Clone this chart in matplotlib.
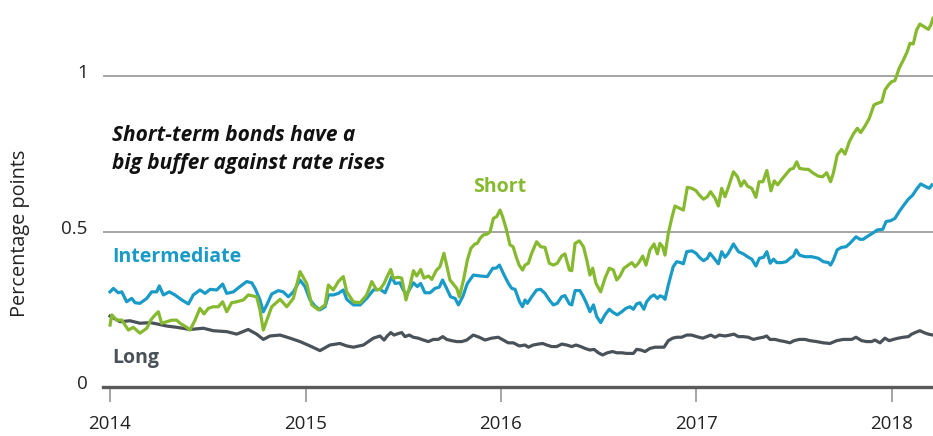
import matplotlib
matplotlib.use("Agg")
import matplotlib.pyplot as plt
from matplotlib.transforms import ScaledTranslation

plt.rcParams['font.family'] = ['Open Sans', 'DejaVu Sans']

# ---------------- data (decimal years, percentage points) ----------------
inter_t = [2014.000, 2014.017, 2014.042, 2014.060, 2014.085, 2014.111, 2014.128, 2014.153, 2014.188, 2014.213,
           2014.239, 2014.252, 2014.273, 2014.303, 2014.332, 2014.367, 2014.401, 2014.426, 2014.460, 2014.486,
           2014.512, 2014.546, 2014.576, 2014.597, 2014.631, 2014.665, 2014.699, 2014.725, 2014.742, 2014.767,
           2014.784, 2014.802, 2014.827, 2014.861, 2014.886, 2014.912, 2014.938, 2014.972, 2014.997, 2015.023,
           2015.049, 2015.074, 2015.100, 2015.117, 2015.142, 2015.168, 2015.193, 2015.211, 2015.245, 2015.279,
           2015.313, 2015.347, 2015.381, 2015.407, 2015.424, 2015.441, 2015.458, 2015.483, 2015.500, 2015.517,
           2015.535, 2015.552, 2015.572, 2015.589, 2015.611, 2015.637, 2015.662, 2015.684, 2015.701, 2015.722,
           2015.742, 2015.765, 2015.782, 2015.804, 2015.828, 2015.859, 2015.893, 2015.930, 2015.958, 2015.975,
           2015.992, 2016.016, 2016.038, 2016.055, 2016.072, 2016.095, 2016.110, 2016.123, 2016.135, 2016.157,
           2016.182, 2016.203, 2016.225, 2016.247, 2016.268, 2016.288, 2016.310, 2016.327, 2016.350, 2016.362,
           2016.379, 2016.404, 2016.422, 2016.439, 2016.455, 2016.473, 2016.490, 2016.510, 2016.532, 2016.554,
           2016.575, 2016.595, 2016.618, 2016.639, 2016.660, 2016.677, 2016.694, 2016.711, 2016.731, 2016.745,
           2016.766, 2016.783, 2016.800, 2016.813, 2016.827, 2016.839, 2016.856, 2016.881, 2016.899, 2016.919,
           2016.933, 2016.950, 2016.976, 2016.998, 2017.015, 2017.036, 2017.056, 2017.069, 2017.090, 2017.112,
           2017.129, 2017.146, 2017.163, 2017.189, 2017.215, 2017.240, 2017.261, 2017.283, 2017.304, 2017.322,
           2017.343, 2017.360, 2017.377, 2017.394, 2017.411, 2017.437, 2017.459, 2017.479, 2017.496, 2017.510,
           2017.527, 2017.555, 2017.589, 2017.623, 2017.649, 2017.675, 2017.686, 2017.700, 2017.720, 2017.742,
           2017.765, 2017.785, 2017.816, 2017.836, 2017.853, 2017.879, 2017.905, 2017.925, 2017.953, 2017.970,
           2017.994, 2018.015, 2018.037, 2018.061, 2018.084, 2018.106, 2018.126, 2018.147, 2018.174, 2018.191,
           2018.205]
inter_v = [0.306, 0.317, 0.303, 0.306, 0.274, 0.285, 0.271, 0.269, 0.285, 0.306,
           0.306, 0.325, 0.296, 0.306, 0.296, 0.280, 0.267, 0.296, 0.312, 0.301,
           0.314, 0.312, 0.331, 0.301, 0.306, 0.323, 0.339, 0.335, 0.317, 0.280,
           0.242, 0.264, 0.299, 0.310, 0.306, 0.290, 0.306, 0.344, 0.323, 0.280,
           0.260, 0.248, 0.258, 0.296, 0.296, 0.301, 0.312, 0.282, 0.264, 0.264,
           0.285, 0.312, 0.314, 0.303, 0.328, 0.355, 0.333, 0.335, 0.312, 0.296,
           0.317, 0.335, 0.323, 0.333, 0.303, 0.303, 0.317, 0.321, 0.344, 0.317,
           0.290, 0.285, 0.264, 0.290, 0.333, 0.360, 0.357, 0.355, 0.382, 0.382,
           0.392, 0.360, 0.333, 0.317, 0.314, 0.274, 0.258, 0.280, 0.269, 0.290,
           0.312, 0.314, 0.301, 0.280, 0.264, 0.269, 0.290, 0.294, 0.267, 0.264,
           0.310, 0.310, 0.290, 0.267, 0.242, 0.264, 0.226, 0.207, 0.232, 0.250,
           0.239, 0.232, 0.242, 0.253, 0.258, 0.250, 0.267, 0.271, 0.250, 0.274,
           0.290, 0.296, 0.285, 0.293, 0.290, 0.282, 0.328, 0.387, 0.403, 0.400,
           0.396, 0.435, 0.438, 0.430, 0.417, 0.406, 0.414, 0.430, 0.414, 0.396,
           0.435, 0.417, 0.430, 0.460, 0.435, 0.428, 0.419, 0.411, 0.389, 0.414,
           0.417, 0.435, 0.398, 0.411, 0.400, 0.400, 0.403, 0.414, 0.421, 0.441,
           0.424, 0.419, 0.419, 0.414, 0.403, 0.400, 0.392, 0.408, 0.441, 0.449,
           0.451, 0.462, 0.483, 0.475, 0.475, 0.486, 0.496, 0.505, 0.507, 0.532,
           0.535, 0.542, 0.564, 0.585, 0.604, 0.617, 0.636, 0.653, 0.644, 0.639,
           0.650]

short_t = [2014.000, 2014.009, 2014.034, 2014.060, 2014.094, 2014.119, 2014.153, 2014.188, 2014.208, 2014.225,
           2014.247, 2014.264, 2014.290, 2014.316, 2014.341, 2014.358, 2014.392, 2014.409, 2014.435, 2014.460,
           2014.481, 2014.503, 2014.528, 2014.554, 2014.576, 2014.597, 2014.622, 2014.648, 2014.682, 2014.707,
           2014.750, 2014.767, 2014.784, 2014.802, 2014.827, 2014.870, 2014.904, 2014.938, 2014.972, 2015.006,
           2015.032, 2015.066, 2015.100, 2015.117, 2015.142, 2015.168, 2015.193, 2015.211, 2015.245, 2015.279,
           2015.313, 2015.339, 2015.364, 2015.381, 2015.402, 2015.419, 2015.436, 2015.449, 2015.475, 2015.492,
           2015.514, 2015.535, 2015.552, 2015.569, 2015.589, 2015.606, 2015.629, 2015.646, 2015.668, 2015.688,
           2015.708, 2015.722, 2015.739, 2015.760, 2015.774, 2015.787, 2015.808, 2015.828, 2015.846, 2015.867,
           2015.879, 2015.893, 2015.910, 2015.930, 2015.944, 2015.961, 2015.978, 2015.995, 2016.008, 2016.026,
           2016.046, 2016.062, 2016.080, 2016.093, 2016.110, 2016.123, 2016.140, 2016.157, 2016.182, 2016.203,
           2016.225, 2016.247, 2016.268, 2016.288, 2016.310, 2016.327, 2016.350, 2016.362, 2016.379, 2016.401,
           2016.422, 2016.439, 2016.455, 2016.469, 2016.486, 2016.510, 2016.532, 2016.554, 2016.575, 2016.592,
           2016.609, 2016.629, 2016.651, 2016.669, 2016.686, 2016.703, 2016.725, 2016.742, 2016.762, 2016.783,
           2016.800, 2016.813, 2016.827, 2016.839, 2016.856, 2016.873, 2016.890, 2016.912, 2016.933, 2016.953,
           2016.976, 2016.998, 2017.015, 2017.036, 2017.056, 2017.072, 2017.095, 2017.112, 2017.129, 2017.146,
           2017.163, 2017.189, 2017.210, 2017.227, 2017.244, 2017.261, 2017.283, 2017.304, 2017.320, 2017.340,
           2017.360, 2017.381, 2017.398, 2017.415, 2017.437, 2017.459, 2017.479, 2017.496, 2017.513, 2017.527,
           2017.555, 2017.572, 2017.594, 2017.623, 2017.645, 2017.666, 2017.686, 2017.700, 2017.720, 2017.742,
           2017.760, 2017.782, 2017.803, 2017.823, 2017.840, 2017.862, 2017.884, 2017.908, 2017.925, 2017.948,
           2017.964, 2017.982, 2017.999, 2018.015, 2018.037, 2018.058, 2018.078, 2018.092, 2018.109, 2018.126,
           2018.143, 2018.164, 2018.186, 2018.199, 2018.210]
short_v = [0.199, 0.232, 0.215, 0.215, 0.183, 0.192, 0.173, 0.189, 0.215, 0.228,
           0.242, 0.205, 0.210, 0.215, 0.215, 0.205, 0.192, 0.183, 0.215, 0.253,
           0.235, 0.253, 0.258, 0.258, 0.274, 0.242, 0.271, 0.274, 0.280, 0.296,
           0.290, 0.248, 0.183, 0.215, 0.258, 0.282, 0.258, 0.285, 0.371, 0.333,
           0.264, 0.248, 0.264, 0.328, 0.312, 0.339, 0.355, 0.306, 0.274, 0.271,
           0.296, 0.339, 0.312, 0.314, 0.333, 0.357, 0.378, 0.350, 0.353, 0.350,
           0.280, 0.328, 0.374, 0.357, 0.378, 0.350, 0.357, 0.346, 0.374, 0.387,
           0.430, 0.392, 0.344, 0.328, 0.317, 0.290, 0.344, 0.408, 0.446, 0.460,
           0.462, 0.478, 0.489, 0.492, 0.499, 0.542, 0.548, 0.569, 0.548, 0.510,
           0.457, 0.451, 0.414, 0.392, 0.376, 0.392, 0.398, 0.430, 0.467, 0.451,
           0.449, 0.398, 0.392, 0.398, 0.421, 0.428, 0.376, 0.374, 0.462, 0.470,
           0.451, 0.408, 0.360, 0.382, 0.333, 0.306, 0.350, 0.382, 0.376, 0.344,
           0.357, 0.382, 0.392, 0.400, 0.387, 0.398, 0.421, 0.392, 0.441, 0.460,
           0.428, 0.462, 0.451, 0.424, 0.494, 0.542, 0.582, 0.575, 0.569, 0.642,
           0.639, 0.631, 0.617, 0.604, 0.612, 0.628, 0.607, 0.582, 0.639, 0.612,
           0.642, 0.692, 0.676, 0.646, 0.663, 0.646, 0.639, 0.610, 0.660, 0.660,
           0.696, 0.631, 0.663, 0.650, 0.668, 0.685, 0.700, 0.703, 0.724, 0.703,
           0.700, 0.700, 0.689, 0.678, 0.676, 0.689, 0.660, 0.687, 0.746, 0.764,
           0.749, 0.789, 0.814, 0.832, 0.818, 0.839, 0.864, 0.907, 0.912, 0.917,
           0.955, 0.971, 0.982, 0.985, 1.025, 1.051, 1.078, 1.105, 1.103, 1.148,
           1.167, 1.159, 1.150, 1.164, 1.186]

long_t = [2014.000, 2014.051, 2014.102, 2014.153, 2014.205, 2014.239, 2014.290, 2014.341, 2014.409, 2014.477,
          2014.528, 2014.597, 2014.648, 2014.707, 2014.750, 2014.784, 2014.818, 2014.870, 2014.921, 2014.972,
          2015.023, 2015.074, 2015.125, 2015.176, 2015.211, 2015.245, 2015.296, 2015.347, 2015.381, 2015.402,
          2015.418, 2015.436, 2015.453, 2015.475, 2015.492, 2015.509, 2015.531, 2015.551, 2015.577, 2015.603,
          2015.628, 2015.654, 2015.679, 2015.702, 2015.722, 2015.748, 2015.773, 2015.799, 2015.825, 2015.858,
          2015.889, 2015.918, 2015.952, 2015.986, 2016.012, 2016.037, 2016.063, 2016.094, 2016.123, 2016.140,
          2016.165, 2016.191, 2016.213, 2016.234, 2016.259, 2016.285, 2016.311, 2016.336, 2016.362, 2016.384,
          2016.408, 2016.430, 2016.455, 2016.476, 2016.498, 2016.520, 2016.544, 2016.571, 2016.592, 2016.617,
          2016.643, 2016.677, 2016.694, 2016.715, 2016.737, 2016.762, 2016.788, 2016.810, 2016.834, 2016.856,
          2016.878, 2016.899, 2016.924, 2016.950, 2016.975, 2017.001, 2017.032, 2017.052, 2017.073, 2017.095,
          2017.117, 2017.146, 2017.171, 2017.192, 2017.214, 2017.239, 2017.265, 2017.291, 2017.316, 2017.342,
          2017.359, 2017.376, 2017.402, 2017.427, 2017.453, 2017.478, 2017.499, 2017.526, 2017.555, 2017.581,
          2017.615, 2017.649, 2017.683, 2017.717, 2017.751, 2017.794, 2017.816, 2017.845, 2017.871, 2017.896,
          2017.913, 2017.939, 2017.964, 2017.986, 2018.007, 2018.032, 2018.058, 2018.084, 2018.101, 2018.118,
          2018.143, 2018.164, 2018.186, 2018.210]
long_v = [0.228, 0.210, 0.213, 0.205, 0.207, 0.203, 0.196, 0.192, 0.185, 0.189,
          0.181, 0.178, 0.170, 0.185, 0.170, 0.153, 0.164, 0.167, 0.157, 0.146,
          0.132, 0.117, 0.135, 0.140, 0.132, 0.128, 0.135, 0.157, 0.164, 0.151,
          0.164, 0.175, 0.167, 0.172, 0.175, 0.162, 0.167, 0.160, 0.157, 0.151,
          0.146, 0.153, 0.153, 0.162, 0.153, 0.149, 0.146, 0.146, 0.151, 0.167,
          0.160, 0.151, 0.157, 0.160, 0.151, 0.142, 0.142, 0.132, 0.135, 0.128,
          0.135, 0.138, 0.140, 0.135, 0.130, 0.130, 0.138, 0.135, 0.130, 0.135,
          0.130, 0.124, 0.119, 0.121, 0.110, 0.103, 0.110, 0.114, 0.110, 0.110,
          0.108, 0.108, 0.121, 0.119, 0.114, 0.124, 0.128, 0.128, 0.128, 0.149,
          0.157, 0.160, 0.160, 0.167, 0.167, 0.162, 0.157, 0.162, 0.167, 0.160,
          0.167, 0.164, 0.167, 0.170, 0.162, 0.162, 0.160, 0.153, 0.157, 0.160,
          0.164, 0.153, 0.153, 0.149, 0.146, 0.142, 0.149, 0.153, 0.153, 0.149,
          0.146, 0.142, 0.140, 0.149, 0.153, 0.153, 0.160, 0.149, 0.146, 0.146,
          0.151, 0.142, 0.157, 0.149, 0.153, 0.157, 0.160, 0.162, 0.170, 0.175,
          0.181, 0.175, 0.170, 0.167]

year_ticks = [2014, 2015, 2016, 2017, 2018]
year_labels = ["2014", "2015", "2016", "2017", "2018"]
y_ticks = [0, 0.5, 1]
y_labels = ["0", "0.5", "1"]

GREEN = "#86b92f"
BLUE = "#1a9bc7"
GRAY = "#4a5259"

# ---------------- figure ----------------
fig = plt.figure(figsize=(9.33, 4.36), dpi=100)
ax = fig.add_axes([103 / 933, 49 / 436, 830 / 933, 387 / 436])
ax.set_xlim(2013.964, 2018.21)
ax.set_ylim(0, 1.2444)

ax.plot(long_t, long_v, color=GRAY, lw=2.3, solid_joinstyle='round', zorder=3)
ax.plot(inter_t, inter_v, color=BLUE, lw=2.3, solid_joinstyle='round', zorder=4)
ax.plot(short_t, short_v, color=GREEN, lw=2.3, solid_joinstyle='round', zorder=5)

for s in ['top', 'right', 'left']:
    ax.spines[s].set_visible(False)
ax.spines['bottom'].set_color('#5a5a5a')
ax.spines['bottom'].set_linewidth(2.4)
ax.spines['bottom'].set_zorder(6)

ax.set_yticks(y_ticks)
ax.set_yticklabels(y_labels)
ax.yaxis.grid(True, color='#8c8c8c', lw=1.1)
ax.set_axisbelow(True)
ax.tick_params(axis='y', length=0, pad=11, labelsize=13.5, labelcolor='#222222')
for lab in ax.get_yticklabels():
    lab.set_transform(lab.get_transform() + ScaledTranslation(0, 5 / 100, fig.dpi_scale_trans))

ax.set_xticks(year_ticks)
ax.set_xticklabels(year_labels)
ax.tick_params(axis='x', length=11, width=1.1, color='#8c8c8c', pad=9,
               labelsize=13.5, labelcolor='#222222')

fig.text(20 / 933, 1 - 233 / 436, "Percentage points", rotation=90,
         ha='center', va='center', fontsize=14.3, color='#222222')

ax.text(2014.01, 0.81, "Short-term bonds have a", fontsize=15, fontweight='bold',
        fontstyle='italic', color='#111111', ha='left', va='center')
ax.text(2014.01, 0.72, "big buffer against rate rises", fontsize=15, fontweight='bold',
        fontstyle='italic', color='#111111', ha='left', va='center')

ax.text(2014.01, 0.418, "Intermediate", fontsize=14, fontweight='bold', color=BLUE,
        ha='left', va='center')
ax.text(2015.857, 0.643, "Short", fontsize=14, fontweight='bold', color=GREEN,
        ha='left', va='center')
ax.text(2014.01, 0.093, "Long", fontsize=14, fontweight='bold', color=GRAY,
        ha='left', va='center')

fig.savefig("out.png", dpi=100)
